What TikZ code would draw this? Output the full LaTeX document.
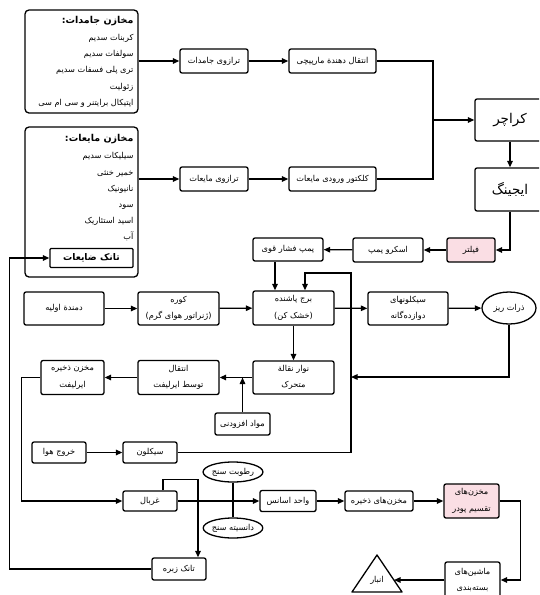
\documentclass[tikz,border=0pt]{standalone}
\usepackage{fontspec}
\usetikzlibrary{arrows.meta,positioning,shapes.geometric}
\newfontfamily\farsi[Script=Arabic]{DejaVu Sans}
\TeXXeTstate=1
\newcommand{\fa}[1]{\beginR #1\endR}
\definecolor{WmPink}{RGB}{250,222,228}

\begin{document}
\begin{tikzpicture}[x=1pt, y=-1pt,
  box/.style={draw, line width=1.3pt, rounded corners=2pt, fill=white, align=center,
    inner sep=1pt, font=\farsi\fontsize{8.2}{16.5}\selectfont},
  store/.style={draw, line width=1.3pt, rounded corners=4pt, minimum width=113pt},
  listtext/.style={align=right, inner sep=0pt, font=\farsi\fontsize{8.2}{16.2}\selectfont},
  big/.style={box, font=\farsi\fontsize{13.5}{15}\selectfont, minimum width=70pt},
  oval/.style={draw, line width=1.3pt, ellipse, inner sep=0pt, fill=white,
    minimum width=54pt, minimum height=20pt, font=\farsi\fontsize{8.2}{9}\selectfont},
  link/.style={draw, line width=1.3pt},
  arrow/.style={link, -{Triangle[length=6.5pt,width=5.5pt]}}
]
\useasboundingbox (0,0) rectangle (539,595);
\clip (0,0) rectangle (539,595);

\node[store, minimum height=103pt] (solids) at (81.5,61.5) {};
\node[listtext, anchor=north east] (solidslist) at ([shift={(-5,6.5)}]solids.north east)
  {{\bfseries\fontsize{9.5}{15}\selectfont\fa{مخازن جامدات:}}\\[1pt]\fa{کربنات سدیم}\\\fa{سولفات سدیم}\\\fa{تری پلی فسفات سدیم}\\\fa{زئولیت}\\\fa{اپتیکال برایتنر و سی ام سی}};
\node[store, minimum height=150pt] (liquids) at (81.5,202) {};
\node[listtext, anchor=north east] (liquidslist) at ([shift={(-5,8)}]liquids.north east)
  {{\bfseries\fontsize{9.5}{15}\selectfont\fa{مخازن مایعات:}}\\[1pt]\fa{سیلیکات سدیم}\\\fa{خمیر خنثی}\\\fa{نانیونیک}\\\fa{سود}\\\fa{اسید استئاریک}\\\fa{آب}};
\node[box, rounded corners=1pt, minimum width=83pt, minimum height=19pt,
  font=\farsi\bfseries\fontsize{9.2}{10}\selectfont] (waste) at (91.5,258) {\fa{تانک ضایعات}};

\node[box, minimum width=68pt, minimum height=24pt] (solidw) at (214,61) {\fa{ترازوی جامدات}};
\node[box, minimum width=87pt, minimum height=24pt] (spiral) at (332.5,61) {\fa{انتقال دهندة مارپیچی}};
\node[box, minimum width=68pt, minimum height=24pt] (liquidw) at (214,179) {\fa{ترازوی مایعات}};
\node[box, minimum width=87pt, minimum height=24pt] (collector) at (332.5,179) {\fa{کلکتور ورودی مایعات}};
\coordinate (merge) at (433,120);

\node[big, minimum height=42pt] (crutcher) at (510,120) {\fa{کراچر}};
\node[big, minimum height=43pt] (aging) at (510,189.5) {\fa{ایجینگ}};
\node[box, fill=WmPink, minimum width=48pt, minimum height=24pt] (filter) at (471,250) {\fa{فیلتر}};
\node[box, minimum width=70pt, minimum height=24pt] (screw) at (388,250) {\fa{اسکرو پمپ}};
\node[box, minimum width=70pt, minimum height=23pt] (hppump) at (288,249.5) {\fa{پمپ فشار قوی}};

\node[box, minimum width=80pt, minimum height=33pt] (blower) at (64,308.5) {\fa{دمندة اولیه}};
\node[box, minimum width=81pt, minimum height=33pt] (furnace) at (178.5,308.5) {\fa{کوره}\\\fa{(ژنراتور هوای گرم)}};
\node[box, minimum width=81pt, minimum height=34pt] (tower) at (293.5,308) {\fa{برج پاشنده}\\\fa{(خشک کن)}};
\node[box, minimum width=80pt, minimum height=33pt] (cyc12) at (408,308.5) {\fa{سیکلونهای}\\\fa{دوازده‌گانه}};
\node[oval, minimum width=54pt, minimum height=32pt] (fines) at (509,308) {\fa{ذرات ریز}};
\coordinate (rettop) at (351,273);
\coordinate (finesin) at (351,377);

\node[box, minimum width=81pt, minimum height=33pt] (belt) at (293.5,377.5) {\fa{نوار نقالة}\\\fa{متحرک}};
\node[box, minimum width=81pt, minimum height=34pt] (airlift) at (178.5,377.5) {\fa{انتقال}\\\fa{توسط ایرلیفت}};
\node[box, minimum width=63pt, minimum height=34pt] (airstore) at (72.5,377.5) {\fa{مخزن ذخیره}\\\fa{ایرلیفت}};
\node[box, minimum width=55pt, minimum height=22pt] (additive) at (242.5,424) {\fa{مواد افزودنی}};

\node[box, minimum width=54pt, minimum height=21pt] (airout) at (59,452.5) {\fa{خروج هوا}};
\node[box, minimum width=54pt, minimum height=21pt] (cyclone) at (150,452.5) {\fa{سیکلون}};
\node[box, minimum width=54pt, minimum height=20pt] (sieve) at (150,501) {\fa{غربال}};
\node[oval] (humid) at (233,472) {\fa{رطوبت سنج}};
\node[oval] (density) at (233,528) {\fa{دانسیته سنج}};
\node[box, minimum width=56pt, minimum height=21pt] (essence) at (288,501) {\fa{واحد اسانس}};
\node[box, minimum width=68pt, minimum height=20pt] (silos) at (379,501) {\fa{مخزن‌های ذخیره}};
\node[box, fill=WmPink, minimum width=55pt, minimum height=34pt] (powder) at (471.5,501) {\fa{مخزن‌های}\\\fa{تقسیم پودر}};
\node[box, minimum width=55pt, minimum height=36pt] (pack) at (472.5,580) {\fa{ماشین‌های}\\\fa{بسته‌بندی}};
\node[box, minimum width=54pt, minimum height=22pt] (coarse) at (179,569) {\fa{تانک زبره}};
\node[inner sep=0pt, font=\farsi\fontsize{8.2}{9}\selectfont] (depot) at (377,580) {\fa{انبار}};
\draw[link, line join=round] ([shift={(-25,12)}]depot.center) -- ([shift={(0,-25)}]depot.center)
  -- ([shift={(25,12)}]depot.center) -- cycle;
\coordinate (depotin) at (394,580);

\draw[arrow] (solids.east |- solidw) -- (solidw);
\draw[arrow] (solidw) -- (spiral);
\draw[arrow] (liquids.east |- liquidw) -- (liquidw);
\draw[arrow] (liquidw) -- (collector);
\draw[link] (spiral.east) -| (merge) |- (collector.east);
\draw[arrow] (merge) -- (crutcher);
\draw[arrow] (crutcher) -- (aging);
\draw[arrow] (aging.south) |- (filter.east);
\draw[arrow] (filter) -- (screw);
\draw[arrow] (screw) -- (hppump);
\draw[arrow] ([xshift=-13pt]hppump.south) -- ([xshift=-18.5pt]tower.north);
\draw[arrow] (blower) -- (furnace);
\draw[arrow] (furnace) -- (tower);
\draw[arrow] (tower) -- (cyc12);
\draw[arrow] (cyc12) -- (fines);
\draw[arrow] (fines.south) |- (finesin);
\draw[arrow] (cyclone.east) -| (rettop) -| ([xshift=11.5pt]tower.north);
\draw[arrow] (tower) -- (belt);
\draw[arrow] (belt) -- (airlift);
\draw[arrow] (additive.north) -- (additive.north |- airlift.east);
\draw[arrow] (airlift) -- (airstore);
\draw[arrow] (airstore.west) -- ++(-19,0) |- (sieve.west);
\draw[arrow] (airout) -- (cyclone);
\draw[arrow] (sieve) -- (essence);
\draw[arrow] ([xshift=13pt]sieve.north) -- ++(0,-11) -| ([xshift=19pt]coarse.north);
\draw[link] (humid) -- (density);
\draw[arrow] (essence) -- (silos);
\draw[arrow] (silos) -- (powder);
\draw[arrow] (powder.east) -- ++(21,0) |- (pack.east);
\draw[arrow] (pack.west) -- (depotin);
\draw[arrow] (coarse.west) -- ++(-142,0) |- (waste.west);
\end{tikzpicture}
\end{document}
